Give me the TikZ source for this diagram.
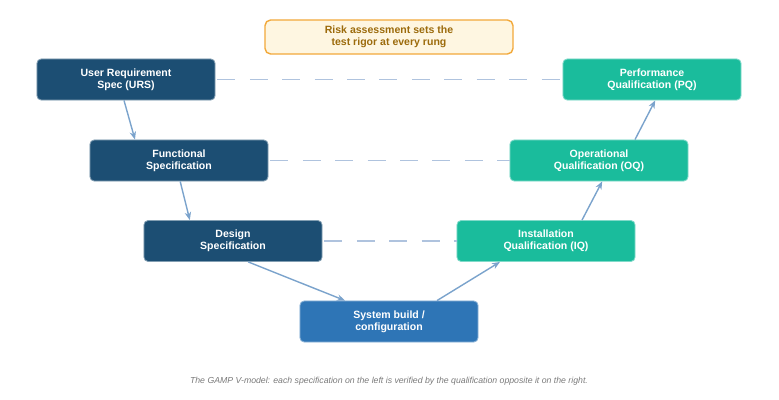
\documentclass[tikz,border=0pt]{standalone}
\usepackage{fontspec}
\setsansfont{Liberation Sans}
\usepackage{xcolor}
\usepackage{tikz}
\usetikzlibrary{arrows.meta, positioning}
\definecolor{specblue}{HTML}{1C4E73}
\definecolor{buildblue}{HTML}{2E75B6}
\definecolor{qualgreen}{HTML}{1ABC9C}
\definecolor{linkblue}{HTML}{7BA3CC}
\definecolor{dashblue}{HTML}{AFC3DE}
\definecolor{riskfill}{HTML}{FEF6E1}
\definecolor{riskline}{HTML}{F2A93B}
\definecolor{riskink}{HTML}{9C6B0C}
\definecolor{captiongray}{HTML}{7A7A7A}

\tikzset{
  vbox/.style={rounded corners=3pt, minimum width=4.45cm, minimum height=1.025cm,
    inner sep=0pt, align=center, text=white, font=\sffamily\bfseries\fontsize{7.5}{8.8}\selectfont,
    line width=0.6pt},
  spec/.style={vbox, fill=specblue, draw=specblue!55!white},
  build/.style={vbox, fill=buildblue, draw=buildblue!55!white},
  qual/.style={vbox, fill=qualgreen, draw=qualgreen!55!white},
  flow/.style={->, draw=linkblue, line width=1pt},
  trace/.style={draw=dashblue, line width=1.1pt, dash pattern=on 0.45cm off 0.36cm, dash phase=-0.05cm},
}

\begin{document}
\begin{tikzpicture}[x=0.025cm, y=-0.025cm, >={Stealth[length=2mm, width=1.6mm]}]
\useasboundingbox (0,0) rectangle (779,400);

% risk note
\node[draw=riskline, line width=1pt, fill=riskfill, rounded corners=4pt,
      minimum width=6.2cm, minimum height=0.85cm, align=center, text=riskink,
      font=\sffamily\bfseries\fontsize{7.5}{8.8}\selectfont] (risk) at (389,37)
  {Risk assessment sets the\\test rigor at every rung};

% left leg
\node[spec] (urs) at (126,79.5) {User Requirement\\Spec (URS)};
\node[spec] (fs) at (179,160.5) {Functional\\Specification};
\node[spec] (ds) at (233,241) {Design\\Specification};

% bottom
\node[build] (sb) at (389,321.5) {System build /\\configuration};

% right leg
\node[qual] (iq) at (546,241) {Installation\\Qualification (IQ)};
\node[qual] (oq) at (599,160.5) {Operational\\Qualification (OQ)};
\node[qual] (pq) at (652,79.5) {Performance\\Qualification (PQ)};

% traceability
\draw[trace] (urs.east) -- (pq.west);
\draw[trace] (fs.east) -- (oq.west);
\draw[trace] (ds.east) -- (iq.west);

% flow down and up the V
\draw[flow] ([xshift=-0.05cm]urs.south) -- ([xshift=-1.1cm]fs.north);
\draw[flow] ([xshift=0.03cm]fs.south) -- ([xshift=-1.08cm]ds.north);
\draw[flow] ([xshift=0.38cm]ds.south) -- ([xshift=-1.1cm]sb.north);
\draw[flow] ([xshift=1.2cm]sb.north) -- ([xshift=-1.15cm]iq.south);
\draw[flow] ([xshift=0.9cm]iq.north) -- ([xshift=0.08cm]oq.south);
\draw[flow] ([xshift=0.9cm]oq.north) -- ([xshift=0.08cm]pq.south);

\node[font=\sffamily\itshape\fontsize{6.2}{7}\selectfont, text=captiongray] (cap) at (389,381)
  {The GAMP V-model: each specification on the left is verified by the qualification opposite it on the right.};
\end{tikzpicture}
\end{document}
